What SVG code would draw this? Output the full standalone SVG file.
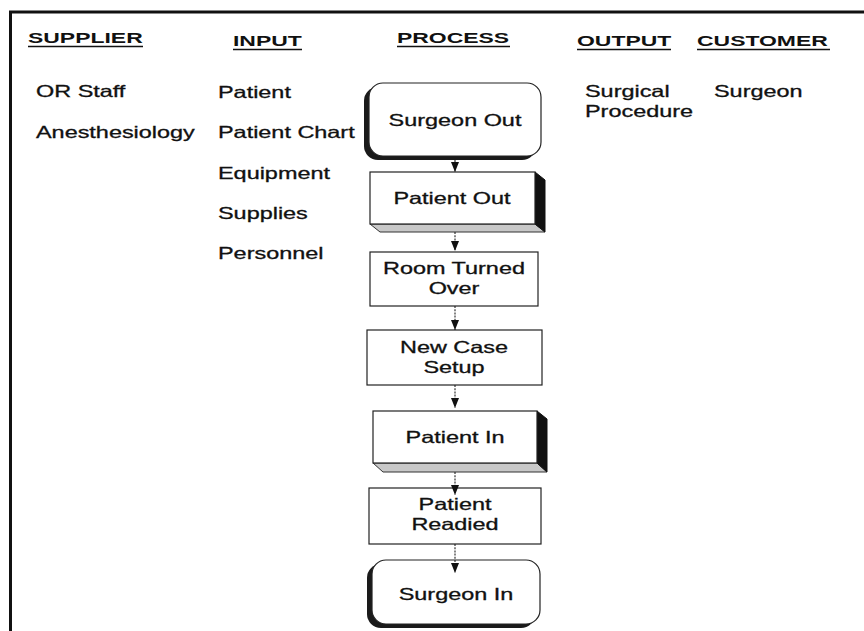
<svg xmlns="http://www.w3.org/2000/svg" width="864" height="631" viewBox="0 0 864 631">
<style>
  .t { font-family: "Liberation Sans", Arial, sans-serif; font-size: 16.5px; fill: #111; stroke: #111; stroke-width: 0.3px; }
  .h { font-family: "Liberation Sans", Arial, sans-serif; font-size: 15px; font-weight: bold; fill: #111; }
  .c { text-anchor: middle; }
  .ul { stroke: #111; stroke-width: 1.6; }
  .box { fill: #fff; stroke: #222; stroke-width: 1.2; }
  .shadow { fill: #1a1a1a; }
  .side { fill: #111; stroke: #111; stroke-width: 1; }
  .bottom { fill: #c8c8c8; stroke: #333; stroke-width: 1; }
  .conn { stroke: #222; stroke-width: 1.1; stroke-dasharray: 2 1.2; fill: none; }
</style>
<defs>
  <marker id="ah" viewBox="0 0 10 8" refX="10" refY="4" markerWidth="11" markerHeight="8" markerUnits="userSpaceOnUse" orient="auto">
    <path d="M0,0 L10,4 L0,8 Z" fill="#111"/>
  </marker>
</defs>
<rect x="0" y="0" width="864" height="631" fill="#fff"/>
<g id="frame">
  <line x1="9" y1="12" x2="864" y2="12" stroke="#111" stroke-width="3"/>
  <line x1="10.5" y1="11" x2="10.5" y2="631" stroke="#111" stroke-width="3"/>
</g>
<g id="headers">
  <text class="h" transform="matrix(1.53,0,0,1,28,43)">SUPPLIER</text>
  <line class="ul" x1="28" y1="46.5" x2="143" y2="46.5"/>
  <text class="h" transform="matrix(1.53,0,0,1,233,46)">INPUT</text>
  <line class="ul" x1="233" y1="49.5" x2="302" y2="49.5"/>
  <text class="h" transform="matrix(1.53,0,0,1,397,43)">PROCESS</text>
  <line class="ul" x1="397" y1="46.5" x2="510" y2="46.5"/>
  <text class="h" transform="matrix(1.53,0,0,1,577,46)">OUTPUT</text>
  <line class="ul" x1="577" y1="49.5" x2="671" y2="49.5"/>
  <text class="h" transform="matrix(1.53,0,0,1,697,46)">CUSTOMER</text>
  <line class="ul" x1="697" y1="49.5" x2="830" y2="49.5"/>
</g>
<g id="suppliers">
  <text class="t" transform="matrix(1.42,0,0,1,36,97)">OR Staff</text>
  <text class="t" transform="matrix(1.42,0,0,1,36,138)">Anesthesiology</text>
</g>
<g id="inputs">
  <text class="t" transform="matrix(1.42,0,0,1,218,98)">Patient</text>
  <text class="t" transform="matrix(1.42,0,0,1,218,138)">Patient Chart</text>
  <text class="t" transform="matrix(1.42,0,0,1,218,179)">Equipment</text>
  <text class="t" transform="matrix(1.42,0,0,1,218,219)">Supplies</text>
  <text class="t" transform="matrix(1.42,0,0,1,218,259)">Personnel</text>
</g>
<g id="outputs">
  <text class="t" transform="matrix(1.42,0,0,1,585,97)">Surgical</text>
  <text class="t" transform="matrix(1.42,0,0,1,585,117)">Procedure</text>
</g>
<g id="customers">
  <text class="t" transform="matrix(1.42,0,0,1,714,97)">Surgeon</text>
</g>
<g id="surgeon-out">
  <rect class="shadow" x="364" y="87" width="172" height="73" rx="14"/>
  <rect class="box" x="369" y="83" width="172" height="73" rx="14"/>
  <text class="t c" transform="matrix(1.42,0,0,1,455,126)">Surgeon Out</text>
</g>
<g id="patient-out">
  <polygon class="bottom" points="370,224 535,224 545,232 380,232"/>
  <polygon class="side" points="535,172 545,180 545,232 535,224"/>
  <rect class="box" x="370" y="172" width="165" height="52"/>
  <text class="t c" transform="matrix(1.42,0,0,1,452,204)">Patient Out</text>
</g>
<g id="room-turned-over">
  <rect class="box" x="370" y="252" width="168" height="54"/>
  <text class="t c" transform="matrix(1.42,0,0,1,454,274)">Room Turned</text>
  <text class="t c" transform="matrix(1.42,0,0,1,454,294)">Over</text>
</g>
<g id="new-case-setup">
  <rect class="box" x="367" y="330" width="175" height="55"/>
  <text class="t c" transform="matrix(1.42,0,0,1,454,353)">New Case</text>
  <text class="t c" transform="matrix(1.42,0,0,1,454,373)">Setup</text>
</g>
<g id="patient-in">
  <polygon class="bottom" points="373,463 537,463 547,472 383,472"/>
  <polygon class="side" points="537,411 547,419 547,472 537,463"/>
  <rect class="box" x="373" y="411" width="164" height="52"/>
  <text class="t c" transform="matrix(1.42,0,0,1,455,443)">Patient In</text>
</g>
<g id="patient-readied">
  <rect class="box" x="369" y="488" width="172" height="56"/>
  <text class="t c" transform="matrix(1.42,0,0,1,455,510)">Patient</text>
  <text class="t c" transform="matrix(1.42,0,0,1,455,530)">Readied</text>
</g>
<g id="surgeon-in">
  <rect class="shadow" x="367" y="564" width="168" height="64" rx="14"/>
  <rect class="box" x="372" y="560" width="168" height="64" rx="14"/>
  <text class="t c" transform="matrix(1.42,0,0,1,456,600)">Surgeon In</text>
</g>
<g id="connectors">
  <line class="conn" x1="455" y1="160" x2="455" y2="172" marker-end="url(#ah)"/>
  <line class="conn" x1="455" y1="232" x2="455" y2="251" marker-end="url(#ah)"/>
  <line class="conn" x1="455" y1="306" x2="455" y2="330" marker-end="url(#ah)"/>
  <line class="conn" x1="455" y1="385" x2="455" y2="408" marker-end="url(#ah)"/>
  <line class="conn" x1="455" y1="472" x2="455" y2="495" marker-end="url(#ah)"/>
  <line class="conn" x1="455" y1="544" x2="455" y2="573" marker-end="url(#ah)"/>
</g>
</svg>
